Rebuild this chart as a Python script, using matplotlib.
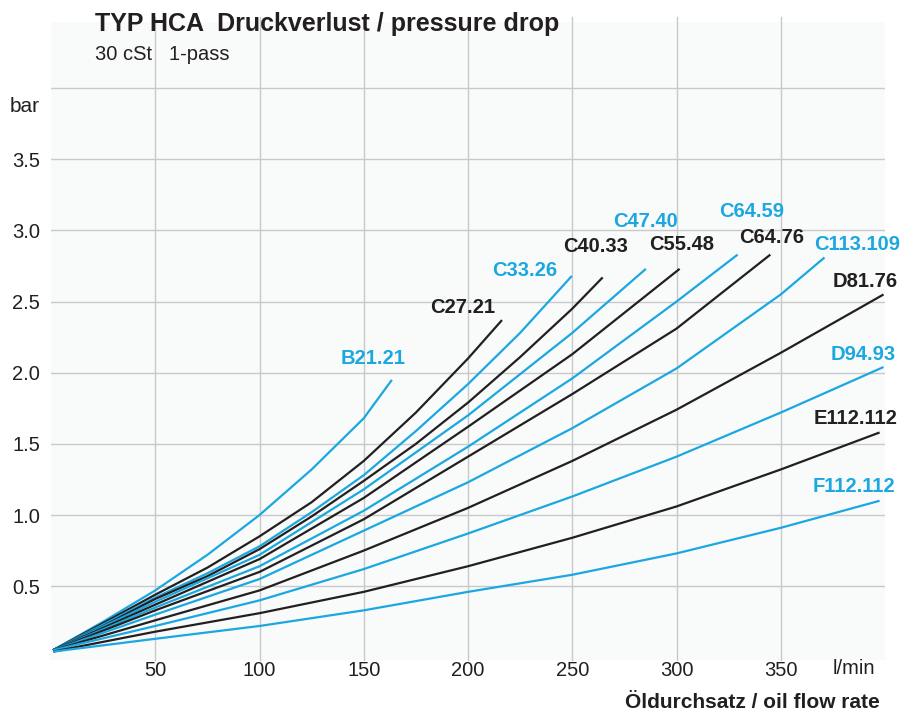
import matplotlib
matplotlib.use("Agg")
import matplotlib.pyplot as plt

plt.rcParams['font.family'] = ['Liberation Sans', 'DejaVu Sans']

blue = '#1ba8e0'
black = '#231f20'

# curve data (flow l/min, pressure drop bar)
names = ['B21.21', 'C27.21', 'C33.26', 'C40.33', 'C47.40', 'C55.48', 'C64.59',
         'C64.76', 'C113.109', 'D81.76', 'D94.93', 'E112.112', 'F112.112']
colors = [blue, black, blue, black, blue, black, blue,
          black, blue, black, blue, black, blue]

flow = [
    [1, 25, 50, 75, 100, 125, 150, 163.5],
    [1, 25, 50, 75, 100, 125, 150, 175, 200, 216.3],
    [1, 25, 50, 75, 100, 125, 150, 175, 200, 225, 249.8],
    [1, 25, 50, 75, 100, 125, 150, 175, 200, 225, 250, 264.6],
    [1, 50, 100, 150, 200, 250, 285.3],
    [1, 50, 100, 150, 200, 250, 301.5],
    [1, 50, 100, 150, 200, 250, 300, 329.3],
    [1, 50, 100, 150, 200, 250, 300, 345],
    [1, 50, 100, 150, 200, 250, 300, 350, 371],
    [1, 50, 100, 150, 200, 250, 300, 350, 399.3],
    [1, 50, 100, 150, 200, 250, 300, 350, 399.3],
    [1, 50, 100, 150, 200, 250, 300, 350, 397.4],
    [1, 50, 100, 150, 200, 250, 300, 350, 397.4],
]
dp = [
    [0.05, 0.25, 0.47, 0.72, 1.00, 1.32, 1.68, 1.95],
    [0.05, 0.24, 0.44, 0.63, 0.85, 1.09, 1.38, 1.72, 2.10, 2.37],
    [0.05, 0.23, 0.42, 0.59, 0.78, 1.02, 1.28, 1.59, 1.92, 2.28, 2.68],
    [0.05, 0.22, 0.41, 0.57, 0.76, 0.99, 1.24, 1.50, 1.79, 2.11, 2.45, 2.67],
    [0.05, 0.39, 0.72, 1.18, 1.70, 2.28, 2.73],
    [0.05, 0.37, 0.69, 1.12, 1.62, 2.13, 2.73],
    [0.05, 0.35, 0.64, 1.03, 1.48, 1.96, 2.50, 2.83],
    [0.05, 0.33, 0.60, 0.97, 1.41, 1.85, 2.31, 2.83],
    [0.05, 0.30, 0.55, 0.89, 1.23, 1.61, 2.03, 2.55, 2.81],
    [0.05, 0.26, 0.47, 0.75, 1.05, 1.38, 1.74, 2.14, 2.55],
    [0.05, 0.22, 0.40, 0.62, 0.87, 1.13, 1.41, 1.72, 2.04],
    [0.04, 0.18, 0.31, 0.46, 0.64, 0.84, 1.06, 1.32, 1.58],
    [0.04, 0.13, 0.22, 0.33, 0.46, 0.58, 0.73, 0.91, 1.10],
]

# where each curve name sits
label_x = [154.4, 197.6, 227.3, 261.3, 285.3, 302.5, 336, 345.6, 386.8, 390.6, 389.7, 385.8, 385.3]
label_y = [2.10, 2.455, 2.715, 2.885, 3.06, 2.90, 3.13, 2.95, 2.90, 2.64, 2.13, 1.68, 1.20]

x_ticks = [50, 100, 150, 200, 250, 300, 350]
y_ticks = [0.5, 1.0, 1.5, 2.0, 2.5, 3.0, 3.5]
y_grid = [0.5, 1.0, 1.5, 2.0, 2.5, 3.0, 3.5, 4.0]

fig = plt.figure(figsize=(9.02, 7.13), dpi=100)
ax = fig.add_axes([51/902, 53/713, 834/902, 638/713])
ax.set_facecolor('#f9fafa')

for x in x_ticks:
    ax.axvline(x, ymax=1.008, color='#c9c9cb', lw=1.0, zorder=1, clip_on=False)
for y in y_grid:
    ax.axhline(y, color='#c9c9cb', lw=1.0, zorder=1)

for i in range(len(names)):
    ax.plot(flow[i], dp[i], color=colors[i], lw=1.6, zorder=3,
            solid_capstyle='butt')
    ax.text(label_x[i], label_y[i], names[i], color=colors[i], fontsize=14.5,
            fontweight='bold', ha='center', va='center')

ax.set_xlim(0, 400)
ax.set_ylim(-0.019, 4.465)
ax.set_xticks(x_ticks)
ax.set_yticks(y_ticks)
ax.set_xticklabels([str(x) for x in x_ticks])
ax.set_yticklabels([str(y) for y in y_ticks])
ax.tick_params(length=0, labelsize=14.5, colors=black)
ax.tick_params(axis='x', pad=1)
ax.tick_params(axis='y', pad=8)
for sp in ax.spines.values():
    sp.set_visible(False)

ax.text(385, -0.08, 'l/min', fontsize=14.5, color=black, ha='center', va='center')
ax.text(-5.6, 3.87, 'bar', fontsize=15, color=black, ha='right', va='center')

fig.text(95/902, 1 - 24/713, 'TYP HCA  Druckverlust / pressure drop', fontsize=18,
         fontweight='bold', color=black, ha='left', va='center')
fig.text(95/902, 1 - 55/713, '30 cSt   1-pass', fontsize=14.5, color=black,
         ha='left', va='center')
fig.text(880/902, 1 - 703/713, 'Öldurchsatz / oil flow rate', fontsize=15,
         fontweight='bold', color=black, ha='right', va='center')

fig.savefig('out.png', dpi=100)
